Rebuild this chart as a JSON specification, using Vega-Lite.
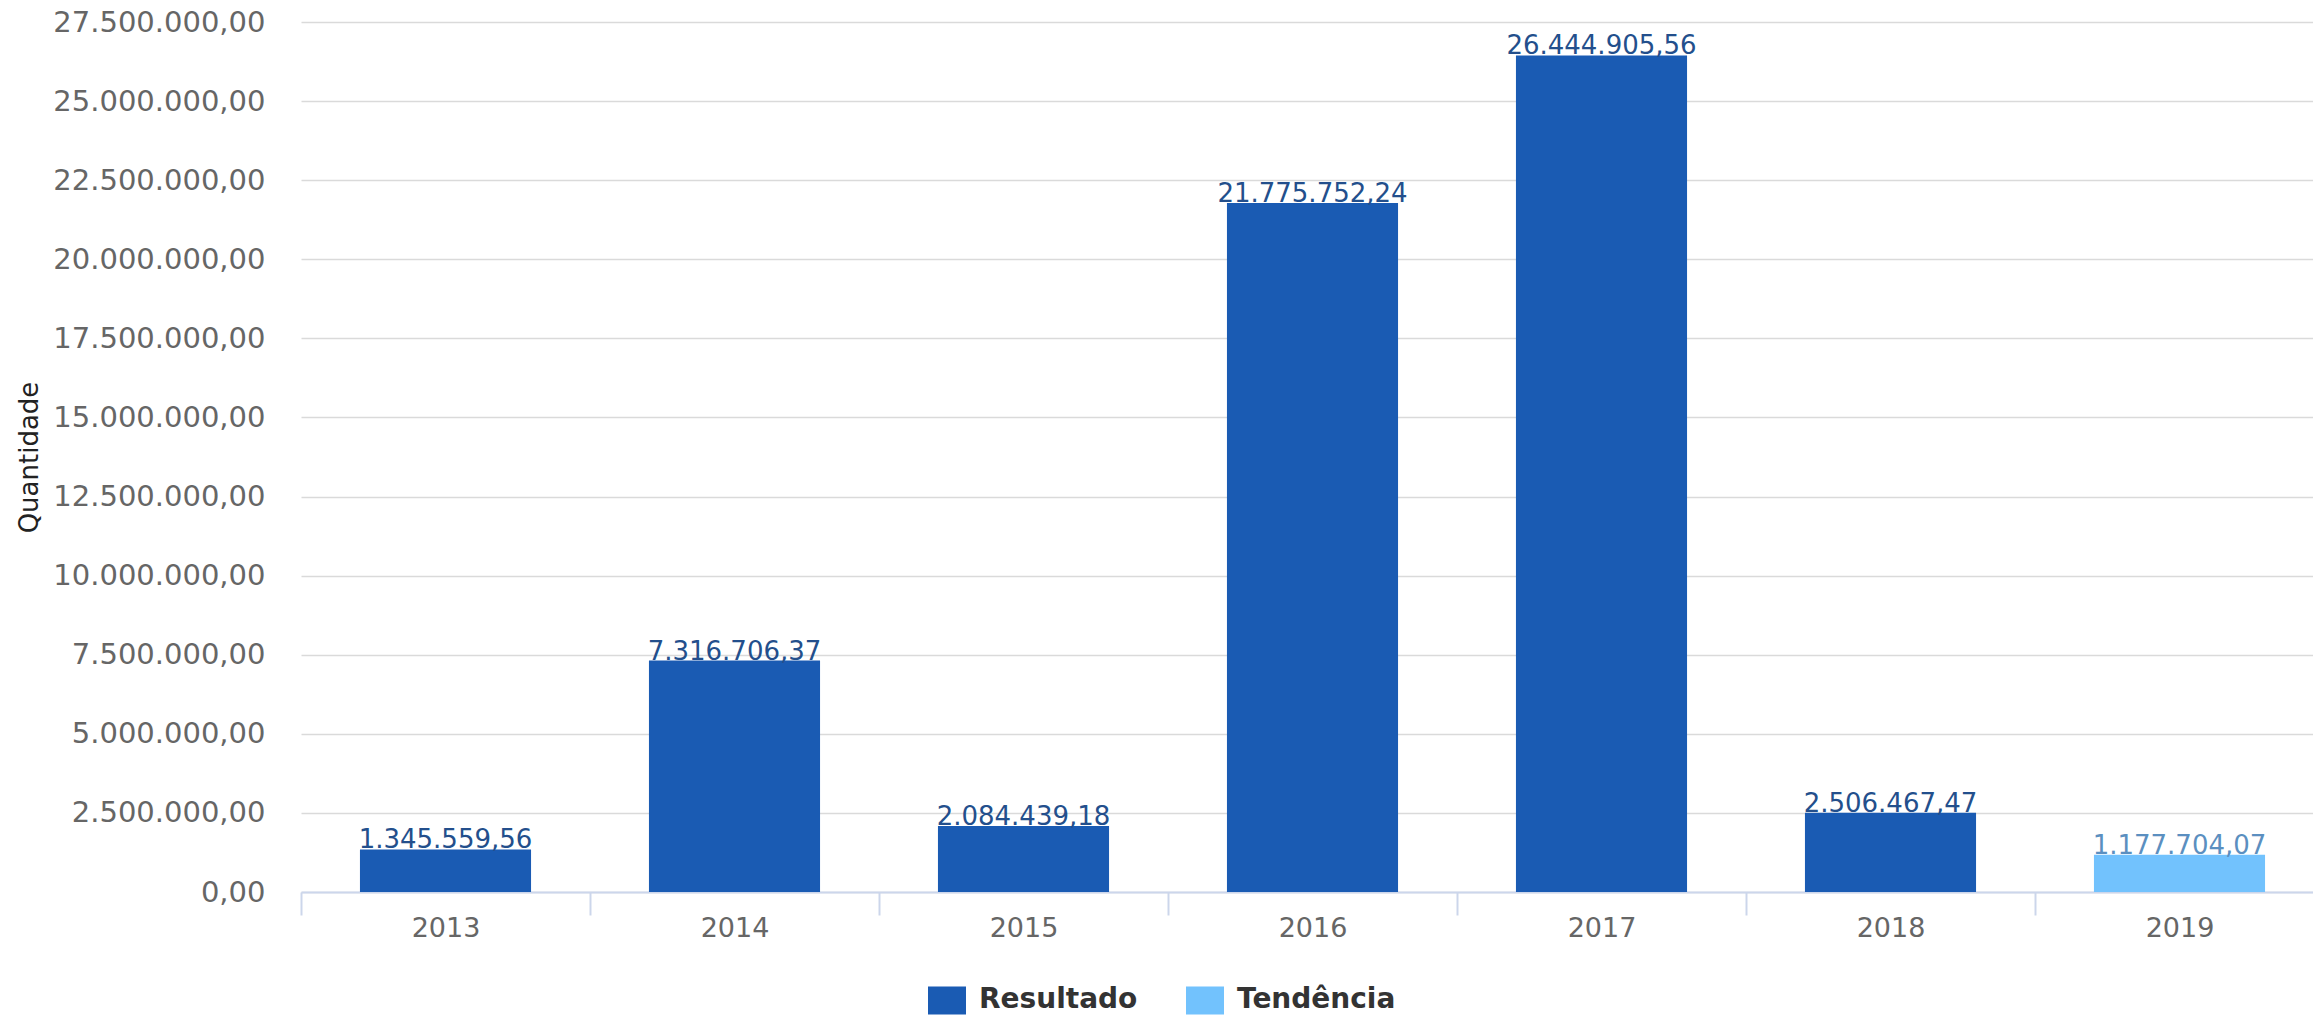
{
  "$schema": "https://vega.github.io/schema/vega-lite/v6.json",
  "autosize": {"type": "none"},
  "padding": {"left": 301, "top": 22, "right": 0, "bottom": 124},
  "width": 2023,
  "height": 870,
  "background": "#ffffff",
  "config": {
    "font": "DejaVu Sans",
    "view": {"stroke": null},
    "locale": {"number": {"decimal": ",", "thousands": ".", "grouping": [3], "currency": ["R$", ""]}}
  },
  "data": {
    "values": [
      {"ano": "2013", "valor": 1345559.56, "serie": "Resultado"},
      {"ano": "2014", "valor": 7316706.37, "serie": "Resultado"},
      {"ano": "2015", "valor": 2084439.18, "serie": "Resultado"},
      {"ano": "2016", "valor": 21775752.24, "serie": "Resultado"},
      {"ano": "2017", "valor": 26444905.56, "serie": "Resultado"},
      {"ano": "2018", "valor": 2506467.47, "serie": "Resultado"},
      {"ano": "2019", "valor": 1177704.07, "serie": "Tendência"}
    ]
  },
  "encoding": {
    "x": {
      "field": "ano", "type": "nominal",
      "scale": {"paddingInner": 0, "paddingOuter": 0},
      "axis": {
        "title": null, "labelAngle": 0, "tickBand": "extent", "grid": false,
        "domainColor": "#ccd6eb", "domainWidth": 2, "tickColor": "#ccd6eb", "tickWidth": 2, "tickSize": 23,
        "labelFontSize": 27, "labelColor": "#666666", "labelPadding": 0
      }
    },
    "y": {
      "field": "valor", "type": "quantitative",
      "scale": {"domain": [0, 27500000], "nice": false},
      "axis": {
        "title": "Quantidade", "titleFontSize": 26, "titleFontWeight": "normal", "titleColor": "#222222", "titlePadding": 59,
        "values": [0, 2500000, 5000000, 7500000, 10000000, 12500000, 15000000, 17500000, 20000000, 22500000, 25000000, 27500000],
        "format": ",.2f", "domain": false, "ticks": false, "labelPadding": 36, "labelLimit": 500,
        "labelFontSize": 29, "labelColor": "#666666",
        "gridColor": "#dadada", "gridWidth": 1.5
      }
    }
  },
  "layer": [
    {
      "mark": {"type": "bar", "width": {"band": 0.592}},
      "encoding": {
        "color": {
          "field": "serie", "type": "nominal",
          "scale": {"domain": ["Resultado", "Tendência"], "range": ["#1a5bb3", "#72c2fd"]},
          "legend": {
            "title": null, "orient": "none", "direction": "horizontal", "legendX": 627, "legendY": 959,
            "padding": 0, "symbolType": "M-1,-0.737H1V0.737H-1Z", "symbolSize": 1444, "symbolStrokeWidth": 0,
            "symbolOpacity": 1,
            "labelFontSize": 28, "labelFontWeight": "bold", "labelColor": "#333333", "labelOffset": 13, "columnPadding": 48
          }
        }
      }
    },
    {
      "mark": {"type": "text", "baseline": "alphabetic", "dy": -1, "fontSize": 26},
      "encoding": {
        "text": {"field": "valor", "type": "quantitative", "format": ",.2f"},
        "color": {
          "condition": {"test": "datum.serie === 'Tendência'", "value": "#5b8fc0"},
          "value": "#234f8c"
        }
      }
    }
  ]
}
